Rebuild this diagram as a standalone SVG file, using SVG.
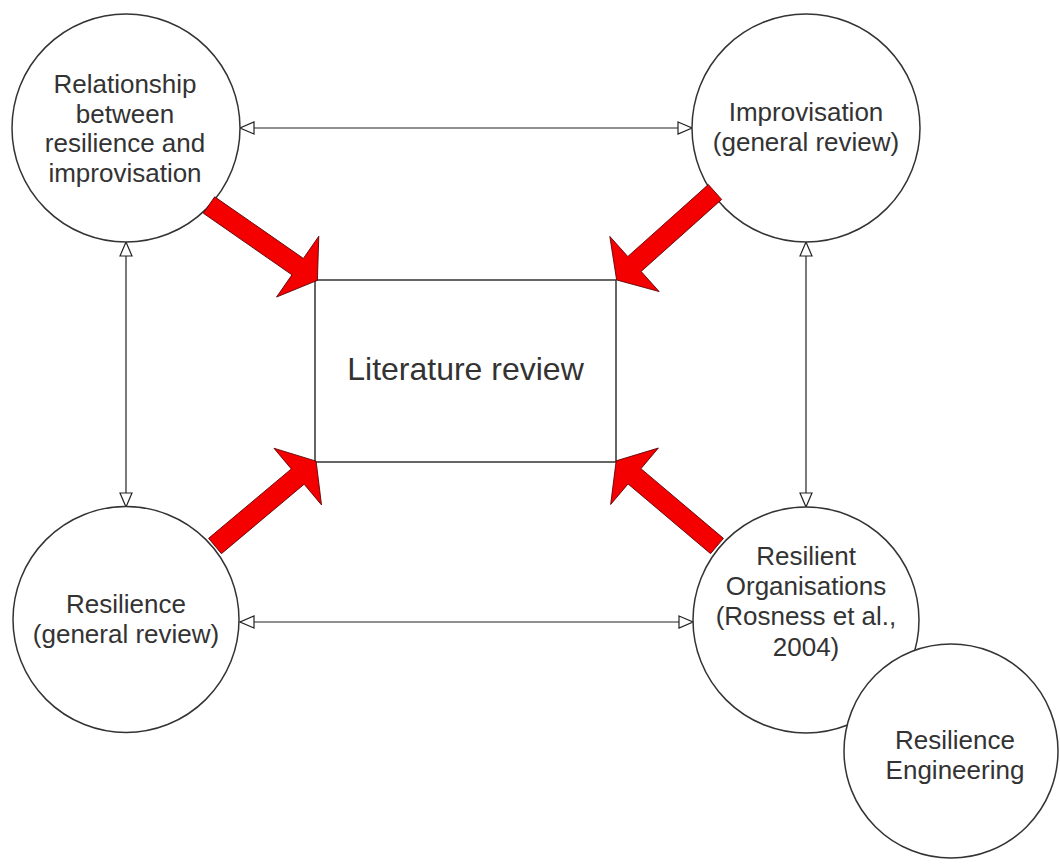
<svg xmlns="http://www.w3.org/2000/svg" width="1060" height="866" viewBox="0 0 1060 866">
<style>
.node{fill:#fff;stroke:#333;stroke-width:1.5}
.lbl{font-family:"Liberation Sans",Arial,sans-serif;font-size:26px;fill:#333;text-anchor:middle}
.conn{stroke:#222;stroke-width:1.2;fill:none;marker-start:url(#tri);marker-end:url(#tri)}
.fat{fill:#f40000;stroke:#5a0000;stroke-width:0.8}
</style>
<defs>
<marker id="tri" viewBox="-1 -1 16 14" refX="14" refY="6" markerWidth="16" markerHeight="14" markerUnits="userSpaceOnUse" orient="auto-start-reverse">
<path d="M0,0 L14,6 L0,12 Z" fill="#fff" stroke="#222" stroke-width="1.2"/>
</marker>
<path id="fatArrow" d="M0,-10 H108 V-37 L132,0 L108,37 V10 H0 Z"/>
</defs>
<rect width="1060" height="866" fill="#fff"/>

<g id="connectors">
<path class="conn" d="M240,128 H692"/>
<path class="conn" d="M240,622 H693"/>
<path class="conn" d="M126,242 V507"/>
<path class="conn" d="M806,242 V507"/>
</g>

<g id="literature-review">
<rect x="315" y="280" width="301" height="182" fill="#fff" stroke="#333" stroke-width="1.5"/>
<text class="lbl" x="465.5" y="380" style="font-size:32px">Literature review</text>
</g>

<g id="relationship">
<circle class="node" cx="126" cy="128" r="114"/>
<text class="lbl" x="125" y="93">Relationship</text>
<text class="lbl" x="125" y="122.5">between</text>
<text class="lbl" x="125" y="152">resilience and</text>
<text class="lbl" x="125" y="181.5">improvisation</text>
</g>

<g id="improvisation">
<circle class="node" cx="806" cy="128" r="114"/>
<text class="lbl" x="806" y="121">Improvisation</text>
<text class="lbl" x="806" y="151">(general review)</text>
</g>

<g id="resilience">
<circle class="node" cx="126" cy="619.5" r="113"/>
<text class="lbl" x="126" y="613">Resilience</text>
<text class="lbl" x="126" y="643">(general review)</text>
</g>

<g id="resilient-organisations">
<circle class="node" cx="806" cy="620" r="113"/>
<text class="lbl" x="806" y="565">Resilient</text>
<text class="lbl" x="806" y="595">Organisations</text>
<text class="lbl" x="806" y="625">(Rosness et al.,</text>
<text class="lbl" x="806" y="656">2004)</text>
</g>

<g id="resilience-engineering">
<circle class="node" cx="951" cy="751" r="107"/>
<text class="lbl" x="955" y="749">Resilience</text>
<text class="lbl" x="955" y="779">Engineering</text>
</g>

<g id="feed-arrows">
<use href="#fatArrow" class="fat" transform="translate(209,205) rotate(34.8)"/>
<use href="#fatArrow" class="fat" transform="translate(715,192) rotate(138.2)"/>
<use href="#fatArrow" class="fat" transform="translate(215,546) rotate(-40)"/>
<use href="#fatArrow" class="fat" transform="translate(717,546) rotate(220.2)"/>
</g>
</svg>
